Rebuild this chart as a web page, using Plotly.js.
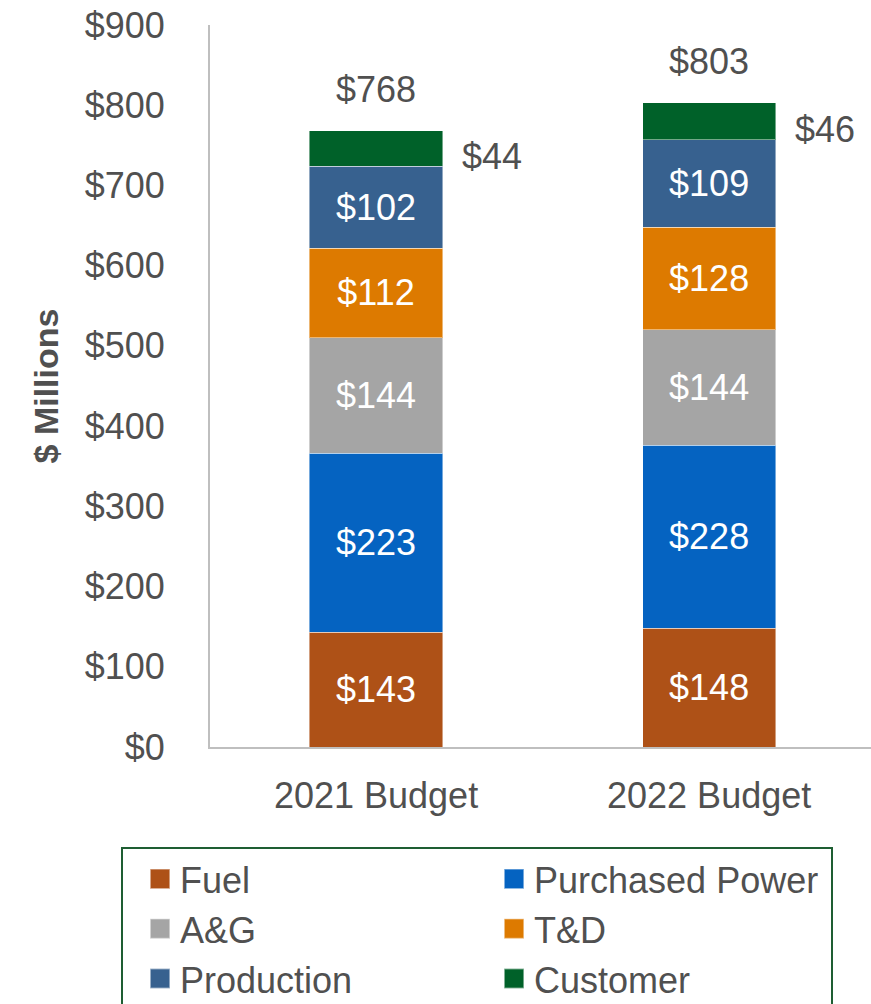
<!DOCTYPE html>
<html>
<head>
<meta charset="utf-8">
<script src="https://cdn.plot.ly/plotly-3.0.1.min.js"></script>
<style>
html,body{margin:0;padding:0;background:#fff;}
#chart{width:871px;height:1004px;}
.legend .legendpoints path{transform:translate(37px,0px) scale(1.65);}
</style>
</head>
<body>
<div id="chart"></div>
<script>
var categories = ['2021 Budget', '2022 Budget'];
var seriesNames = ['Fuel', 'Purchased Power', 'A&G', 'T&D', 'Production', 'Customer'];
var fuel = [143, 148];
var purchasedPower = [223, 228];
var ag = [144, 144];
var td = [112, 128];
var production = [102, 109];
var customer = [44, 46];
var totals = [768, 803];
var yTicks = [0, 100, 200, 300, 400, 500, 600, 700, 800, 900];

var colors = ['#AE5117', '#0563C1', '#A5A5A5', '#DD7A00', '#37618F', '#006129'];
var seriesValues = [fuel, purchasedPower, ag, td, production, customer];

var FONT = 'Liberation Sans, Arial, sans-serif';
var TXT = '#505050';
var FS = 36;

var traces = seriesNames.map(function(name, i){
  var isCust = (i === seriesNames.length - 1);
  return {
    type: 'bar',
    name: name,
    x: categories,
    y: seriesValues[i],
    width: 0.4,
    marker: {color: colors[i], line: {color: 'rgba(255,255,255,0.45)', width: 1}},
    texttemplate: isCust ? '' : '$%{y}',
    textposition: isCust ? 'none' : 'inside',
    insidetextanchor: 'middle',
    textangle: 0,
    constraintext: 'none',
    textfont: {family: FONT, size: FS, color: '#FFFFFF'},
    hoverinfo: 'skip'
  };
});

var annotations = [];
categories.forEach(function(c, k){
  annotations.push({
    x: c, y: totals[k], xref: 'x', yref: 'y', text: '$' + totals[k],
    showarrow: false, yanchor: 'bottom', yshift: 19,
    font: {family: FONT, size: FS, color: TXT}
  });
  var base = fuel[k] + purchasedPower[k] + ag[k] + td[k] + production[k];
  annotations.push({
    x: c, y: base + customer[k] / 2, xref: 'x', yref: 'y', text: '$' + customer[k],
    showarrow: false, xanchor: 'left', xshift: 84, yshift: -8,
    font: {family: FONT, size: FS, color: TXT}
  });
});

var layout = {
  width: 871, height: 1004,
  margin: {l: 210, r: 0, t: 25, b: 257, autoexpand: false},
  paper_bgcolor: '#FFFFFF', plot_bgcolor: '#FFFFFF',
  barmode: 'stack',
  showlegend: true,
  font: {family: FONT, color: TXT},
  xaxis: {
    type: 'category', range: [-0.4985, 1.486],
    showline: true, linecolor: '#BFBFBF', linewidth: 2,
    ticks: '', showgrid: false, zeroline: false,
    tickfont: {family: FONT, size: FS, color: TXT},
    ticklabelstandoff: 16
  },
  yaxis: {
    range: [0, 900], tickvals: yTicks, ticktext: yTicks.map(function(v){return '$' + v;}),
    showline: true, linecolor: '#BFBFBF', linewidth: 2,
    ticks: '', showgrid: false, zeroline: false,
    tickfont: {family: FONT, size: FS, color: TXT},
    ticklabelstandoff: 36,
    title: {text: '<b>$ Millions</b>', font: {family: FONT, size: 34, color: TXT}, standoff: 16}
  },
  legend: {
    orientation: 'h', traceorder: 'normal',
    x: -0.1346, xanchor: 'left', y: -0.1385, yanchor: 'top',
    bordercolor: '#1E5E32', borderwidth: 2, bgcolor: '#FFFFFF',
    font: {family: FONT, size: 36, color: TXT},
    entrywidth: 292, itemwidth: 47
  },
  annotations: annotations
};

Plotly.newPlot('chart', traces, layout, {staticPlot: true, displayModeBar: false});
</script>
</body>
</html>
